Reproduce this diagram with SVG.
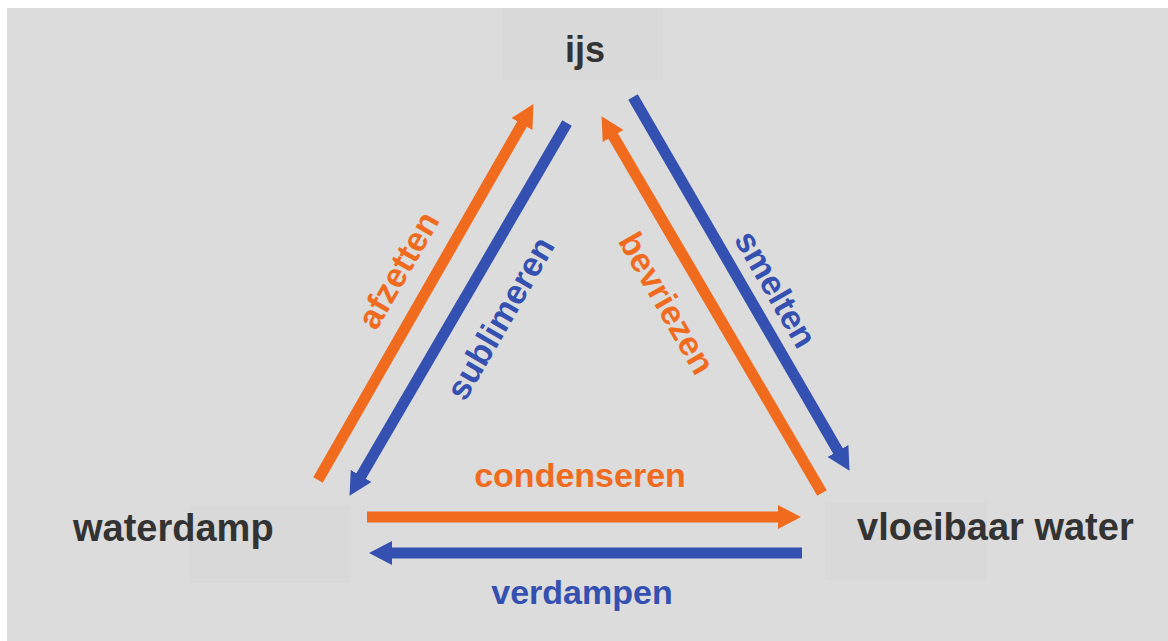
<svg xmlns="http://www.w3.org/2000/svg" width="1168" height="641" viewBox="0 0 1168 641">
  <style>
    .node-box { fill: #d9d9d9; }
    .node-label { font-family: "Liberation Sans", Arial, sans-serif; font-weight: bold; font-size: 38px; fill: #333333; }
    .edge-label { font-family: "Liberation Sans", Arial, sans-serif; font-weight: bold; font-size: 34px; text-anchor: middle; }
    .orange { stroke: #f06b1e; stroke-width: 11; fill: none; }
    .blue { stroke: #3450b0; stroke-width: 11; fill: none; }
    .t-orange { fill: #f06b1e; }
    .t-blue { fill: #3450b0; }
  </style>
  <defs>
    <marker id="head-orange" markerUnits="userSpaceOnUse" markerWidth="24" markerHeight="26" viewBox="0 0 24 26" refX="7" refY="13" orient="auto">
      <path d="M0,1 L23,13 L0,25 z" fill="#f06b1e"/>
    </marker>
    <marker id="head-blue" markerUnits="userSpaceOnUse" markerWidth="24" markerHeight="26" viewBox="0 0 24 26" refX="7" refY="13" orient="auto">
      <path d="M0,1 L23,13 L0,25 z" fill="#3450b0"/>
    </marker>
  </defs>

  <!-- page -->
  <rect x="0" y="0" width="1168" height="641" fill="#ffffff"/>
  <rect x="7" y="8" width="1161" height="633" fill="#dcdcdc"/>

  <!-- states -->
  <g id="ijs">
    <rect class="node-box" x="503" y="8" width="160" height="72"/>
    <text class="node-label" x="585" y="62" text-anchor="middle" style="font-size:36px">ijs</text>
  </g>
  <g id="waterdamp">
    <rect class="node-box" x="189" y="506" width="161" height="77"/>
    <text class="node-label" x="73" y="541">waterdamp</text>
  </g>
  <g id="vloeibaar-water">
    <rect class="node-box" x="825" y="502" width="162" height="78"/>
    <text class="node-label" x="857" y="540">vloeibaar water</text>
  </g>

  <!-- phase transitions -->
  <g id="connectors">
    <line id="afzetten" class="orange" x1="318" y1="480" x2="525.5" y2="118" marker-end="url(#head-orange)"/>
    <line id="sublimeren" class="blue" x1="567" y1="123" x2="357.6" y2="482" marker-end="url(#head-blue)"/>
    <line id="bevriezen" class="orange" x1="822" y1="493" x2="609.6" y2="130" marker-end="url(#head-orange)"/>
    <line id="smelten" class="blue" x1="633" y1="97" x2="841.5" y2="457" marker-end="url(#head-blue)"/>
    <line id="condenseren" class="orange" x1="367" y1="517" x2="785" y2="517" marker-end="url(#head-orange)"/>
    <line id="verdampen" class="blue" x1="802" y1="553" x2="385" y2="553" marker-end="url(#head-blue)"/>

    <text class="edge-label t-orange" transform="translate(398,270) rotate(-60)" dy="0.35em">afzetten</text>
    <text class="edge-label t-blue" transform="translate(500,318) rotate(-60)" dy="0.35em">sublimeren</text>
    <text class="edge-label t-orange" transform="translate(667,303) rotate(60)" dy="0.35em">bevriezen</text>
    <text class="edge-label t-blue" transform="translate(776,289) rotate(60)" dy="0.35em">smelten</text>
    <text class="edge-label t-orange" x="580" y="487">condenseren</text>
    <text class="edge-label t-blue" x="582" y="604">verdampen</text>
  </g>
</svg>
